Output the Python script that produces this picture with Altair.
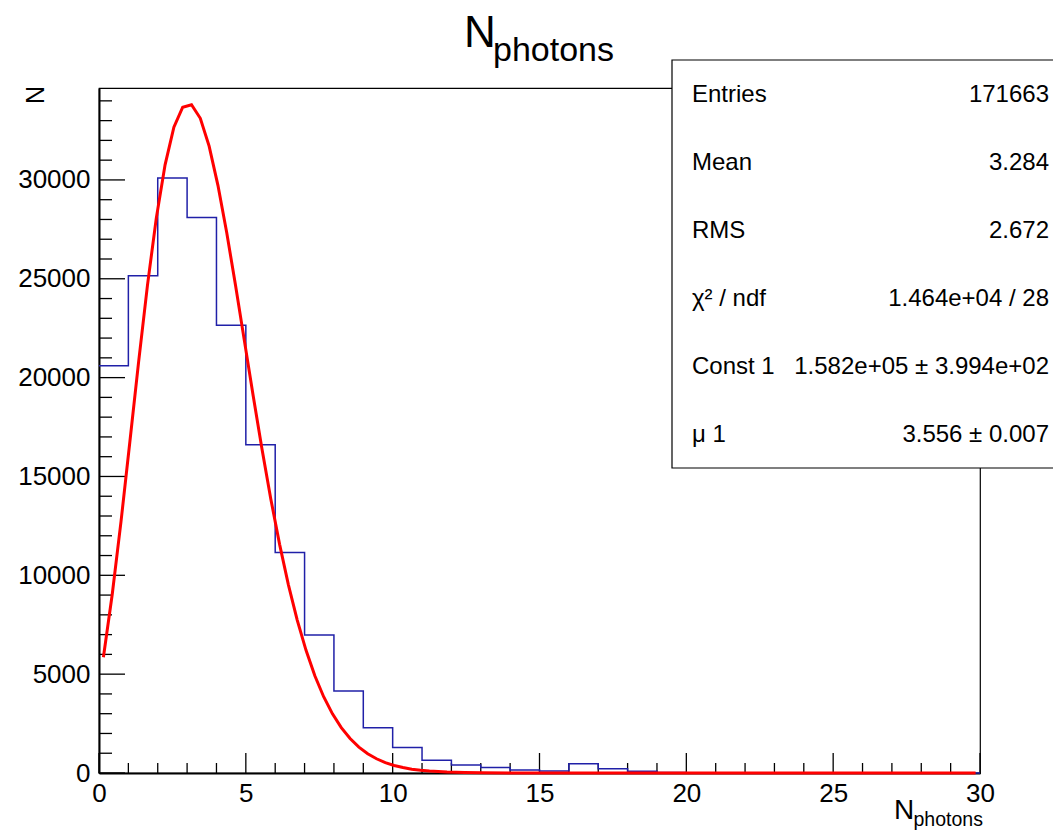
import altair as alt
import pandas as pd

# ---------------- data ----------------
bin_edges = [0, 1, 2, 3, 4, 5, 6, 7, 8, 9, 10, 11, 12, 13, 14, 15,
             16, 17, 18, 19, 20, 21, 22, 23, 24, 25, 26, 27, 28, 29, 30]
bin_counts = [20600, 25150, 30100, 28100, 22650, 16600, 11150, 6980, 4150, 2295,
              1285, 645, 410, 280, 150, 100, 470, 210, 90, 30,
              10, 8, 5, 4, 3, 2, 2, 1, 1, 1]

fit_x = [0.15, 0.45, 0.75, 1.05, 1.35, 1.65, 1.95, 2.25, 2.55, 2.85,
         3.15, 3.45, 3.75, 4.05, 4.35, 4.65, 4.95, 5.25, 5.55, 5.85,
         6.15, 6.45, 6.75, 7.05, 7.35, 7.65, 7.95, 8.25, 8.55, 8.85,
         9.15, 9.45, 9.75, 10.05, 10.35, 10.65, 10.95, 11.25, 11.85, 12.45,
         13.05, 14.25, 15.45, 20.0, 25.0, 29.85]
fit_y = [5855, 9026, 12726, 16742, 20811, 24667, 28055, 30766, 32666, 33678,
         33806, 33117, 31708, 29728, 27326, 24661, 21871, 19078, 16384, 13864,
         11565, 9520, 7734, 6206, 4921, 3858, 2991, 2295, 1742, 1310,
         975, 720, 526, 381, 274, 195, 138, 97, 47, 22,
         10, 2, 0, 0, 0, 0]

x_major = [0, 5, 10, 15, 20, 25, 30]
x_minor = [1, 2, 3, 4, 6, 7, 8, 9, 11, 12, 13, 14, 16, 17, 18, 19,
           21, 22, 23, 24, 26, 27, 28, 29]
y_major = [0, 5000, 10000, 15000, 20000, 25000, 30000]
y_minor = [1000, 2000, 3000, 4000, 6000, 7000, 8000, 9000, 11000, 12000, 13000, 14000,
           16000, 17000, 18000, 19000, 21000, 22000, 23000, 24000, 26000, 27000, 28000,
           29000, 31000, 32000, 33000, 34000]

stat_labels = ["Entries", "Mean", "RMS", "χ² / ndf", "Const 1", "μ 1"]
stat_values = ["171663", "3.284", "2.672", "1.464e+04 / 28",
               "1.582e+05 ± 3.994e+02", "3.556 ± 0.007"]

# ---------------- layout ----------------
W, H = 881, 685
FONT = "Liberation Sans"

hist_df = pd.DataFrame({"x": bin_edges, "y": bin_counts + [bin_counts[-1]]})
fit_df = pd.DataFrame({"x": fit_x, "y": fit_y})

xs = alt.Scale(domain=[0, 30], nice=False, zero=False)
ys = alt.Scale(domain=[0, 34650], nice=False, zero=False)

x_axis = alt.Axis(values=x_major, labelFont=FONT, labelFontSize=26, labelColor="black",
                  tickSize=0, labelPadding=7, domainColor="black", domainWidth=2,
                  grid=False, title=None, labelFlush=False, labelOverlap=False, format="d")
y_axis = alt.Axis(values=y_major, labelFont=FONT, labelFontSize=26, labelColor="black",
                  tickSize=0, labelPadding=9, domainColor="black", domainWidth=2,
                  grid=False, title=None, labelFlush=False, labelOverlap=False, format="d")


def X(field):
    return alt.X(field, type="quantitative", scale=xs, axis=x_axis)


def Y(field):
    return alt.Y(field, type="quantitative", scale=ys, axis=y_axis)


layers = []

# tick marks (inside the frame, like ROOT)
xmaj = pd.DataFrame({"t": x_major})
xmin = pd.DataFrame({"t": x_minor})
ymaj = pd.DataFrame({"v": y_major})
ymin = pd.DataFrame({"v": y_minor})
layers.append(alt.Chart(xmaj).mark_rule(color="black", strokeWidth=1.3).encode(
    x=X("t"), y=alt.value(H), y2=alt.value(H - 20)))
layers.append(alt.Chart(xmin).mark_rule(color="black", strokeWidth=1.3).encode(
    x=X("t"), y=alt.value(H), y2=alt.value(H - 10)))
layers.append(alt.Chart(ymaj).mark_rule(color="black", strokeWidth=1.3).encode(
    y=Y("v"), x=alt.value(0), x2=alt.value(26)))
layers.append(alt.Chart(ymin).mark_rule(color="black", strokeWidth=1.3).encode(
    y=Y("v"), x=alt.value(0), x2=alt.value(13)))

# histogram
layers.append(alt.Chart(hist_df).mark_line(color="#2020a8", strokeWidth=1.5,
                                           interpolate="step-after").encode(
    x=X("x"), y=Y("y")))

# fit curve
layers.append(alt.Chart(fit_df).mark_line(color="#ff0000", strokeWidth=3).encode(
    x=X("x"), y=Y("y")))

# stats box
one = pd.DataFrame({"d": [0]})
layers.append(alt.Chart(one).mark_rect(fill="white", stroke="black", strokeWidth=1.2).encode(
    x=alt.value(573), x2=alt.value(1000), y=alt.value(-28), y2=alt.value(380)))
for i, (lab, val) in enumerate(zip(stat_labels, stat_values)):
    yy = 7 + 68 * i
    layers.append(alt.Chart(pd.DataFrame({"s": [lab]})).mark_text(
        align="left", baseline="middle", font=FONT, fontSize=24, color="black").encode(
        text="s:N", x=alt.value(593), y=alt.value(yy)))
    layers.append(alt.Chart(pd.DataFrame({"s": [val]})).mark_text(
        align="right", baseline="middle", font=FONT, fontSize=24, color="black").encode(
        text="s:N", x=alt.value(950), y=alt.value(yy)))

# main title  N_photons
layers.append(alt.Chart(pd.DataFrame({"s": ["N"]})).mark_text(
    align="left", baseline="alphabetic", font=FONT, fontSize=44, color="black").encode(
    text="s:N", x=alt.value(365), y=alt.value(-41.5)))
layers.append(alt.Chart(pd.DataFrame({"s": ["photons"]})).mark_text(
    align="left", baseline="alphabetic", font=FONT, fontSize=34, color="black").encode(
    text="s:N", x=alt.value(394), y=alt.value(-27)))

# x-axis title  N_photons
layers.append(alt.Chart(pd.DataFrame({"s": ["N"]})).mark_text(
    align="left", baseline="alphabetic", font=FONT, fontSize=28, color="black").encode(
    text="s:N", x=alt.value(795), y=alt.value(731)))
layers.append(alt.Chart(pd.DataFrame({"s": ["photons"]})).mark_text(
    align="left", baseline="alphabetic", font=FONT, fontSize=19.5, color="black").encode(
    text="s:N", x=alt.value(814.5), y=alt.value(738)))

# y-axis title  N
layers.append(alt.Chart(pd.DataFrame({"s": ["N"]})).mark_text(
    align="right", baseline="alphabetic", font=FONT, fontSize=25, color="black",
    angle=270).encode(
    text="s:N", x=alt.value(-55), y=alt.value(-2)))

chart = alt.layer(*layers).properties(
    width=W, height=H,
    autosize=alt.AutoSizeParams(type="none"),
    padding={"left": 91, "top": 80, "right": 73, "bottom": 57},
    background="white",
).configure_view(stroke="black", strokeWidth=1.2)

chart.save("out.html", embed_options={"renderer": "svg", "actions": False})
